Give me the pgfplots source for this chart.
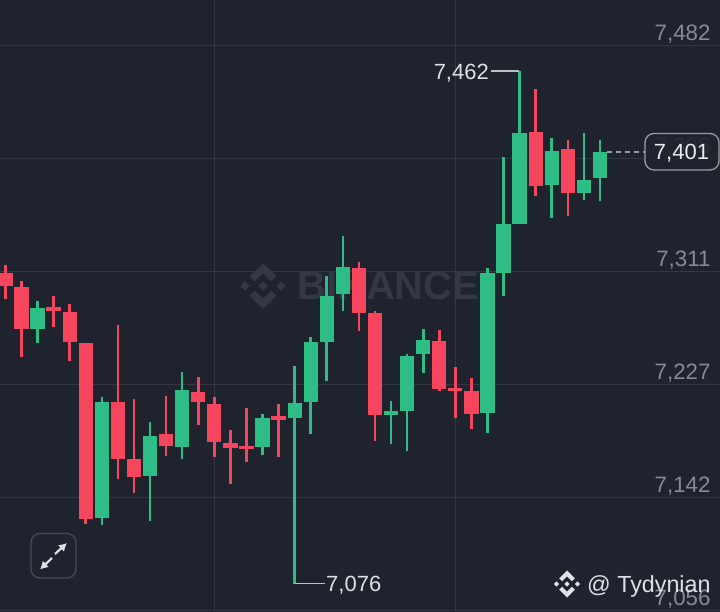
\documentclass[border=0pt]{standalone}
\usepackage{pgfplots}
\usepackage{pgfplotstable}
\usepackage{fontspec}
\setmainfont{Liberation Sans}
\pgfplotsset{compat=1.18}
\usetikzlibrary{arrows.meta}
\definecolor{bg}{HTML}{1E232E}
\definecolor{gridc}{HTML}{323742}
\definecolor{up}{HTML}{2EBD85}
\definecolor{dn}{HTML}{F6465D}
\definecolor{ticktxt}{HTML}{858A95}
\definecolor{wmark}{HTML}{343843}
\definecolor{lite}{HTML}{DDE0E4}
% i  low  high  bodylow  bodyhigh
\pgfplotstableread{
i lo hi blo bhi
0 7290.5 7316.1 7300.5 7309.8
1 7246.9 7304.3 7267.6 7299.7
3 7269.1 7292.7 7281.2 7284.6
4 7243.9 7286.5 7258.3 7280.7
5 7120.8 7257.5 7124.3 7257.5
7 7155.0 7270.6 7169.6 7212.6
8 7143.9 7214.8 7156.2 7169.6
10 7172.3 7217.5 7179.4 7188.4
12 7195.2 7231.6 7212.6 7220.6
13 7171.1 7216.6 7182.4 7211.5
14 7151.2 7191.5 7178.3 7181.7
15 7167.6 7208.0 7177.1 7179.6
17 7171.5 7211.1 7199.4 7202.0
22 7266.5 7318.6 7280.1 7314.1
23 7183.4 7281.4 7203.0 7279.9
27 7220.9 7267.1 7222.8 7258.8
28 7200.7 7239.0 7220.9 7223.1
29 7192.4 7230.9 7204.0 7220.9
33 7368.1 7448.6 7375.4 7416.6
35 7353.3 7410.3 7370.1 7403.3
}\reddata
\pgfplotstableread{
i lo hi blo bhi
2 7257.5 7289.2 7267.6 7283.4
6 7120.3 7216.3 7125.3 7212.6
9 7123.3 7197.5 7157.2 7187.4
11 7169.6 7235.6 7178.6 7221.6
16 7172.6 7203.7 7178.6 7200.5
18 7075.9 7239.9 7200.5 7211.8
19 7188.7 7262.0 7212.8 7257.8
20 7228.6 7308.0 7257.8 7292.9
21 7281.6 7338.2 7294.0 7314.8
24 7180.9 7213.5 7203.0 7205.8
25 7175.6 7249.0 7205.8 7247.7
26 7234.9 7268.1 7248.8 7259.8
30 7189.2 7314.1 7204.7 7310.1
31 7292.9 7397.3 7310.3 7347.2
32 7347.2 7462.4 7347.2 7415.4
34 7351.3 7411.6 7376.2 7402.3
36 7365.3 7415.4 7370.1 7380.2
37 7364.1 7410.3 7381.5 7401.3
}\greendata
\newcommand\binlogo[4]{% x y r colour
  \begin{scope}[shift={(#1,#2)},x=#3pt,y=-#3pt,fill=#4]
  \fill (0,1)--(.58,.42)--(.36,.2)--(0,.56)--(-.36,.2)--(-.58,.42)--cycle;
  \fill (0,-1)--(.58,-.42)--(.36,-.2)--(0,-.56)--(-.36,-.2)--(-.58,-.42)--cycle;
  \fill (0,.2)--(.2,0)--(0,-.2)--(-.2,0)--cycle;
  \fill (.78,.2)--(.98,0)--(.78,-.2)--(.58,0)--cycle;
  \fill (-.78,.2)--(-.58,0)--(-.78,-.2)--(-.98,0)--cycle;
  \end{scope}}
\begin{document}
\begin{tikzpicture}
\useasboundingbox (0,0) rectangle (720pt,611pt);
\begin{scope}[x=1pt,y=-1pt,yshift=611pt]
  \fill[bg] (-5,-5) rectangle (725,616);
  \binlogo{263}{286}{23}{wmark}
  \node[wmark,anchor=west,font=\fontsize{40}{40}\selectfont\bfseries,inner sep=0pt] at (297,286) {BINANCE};
\end{scope}
\begin{axis}[
  at={(0,0)},anchor=south west,
  scale only axis,width=720pt,height=611pt,
  xmin=-0.336,xmax=44.47,ymin=7055.2,ymax=7515.9,
  axis line style={draw=none},
  major tick length=0pt,
  xtick={13,28},xticklabels={},
  ytick={7055.6,7140.8,7226,7311.2,7396.4,7481.6},
  yticklabels={{7,056},{7,142},{7,227},{7,311},{7,396},{7,482}},
  yticklabel pos=right,
  y tick label style={anchor=east,xshift=-6pt,yshift=11.4pt,text=ticktxt,font=\fontsize{22.3}{22}\selectfont},
  grid=major,
  grid style={gridc,line width=1pt},
  error bars/error mark=none,
]
\addplot[draw=none,forget plot,error bars/.cd,y dir=plus,y explicit,error bar style={dn,line width=2.6pt}]
  table[x=i,y=lo,y error plus expr=\thisrow{hi}-\thisrow{lo}]{\reddata};
\addplot[draw=none,forget plot,error bars/.cd,y dir=plus,y explicit,error bar style={dn,line width=14.3pt}]
  table[x=i,y=blo,y error plus expr=\thisrow{bhi}-\thisrow{blo}]{\reddata};
\addplot[draw=none,forget plot,error bars/.cd,y dir=plus,y explicit,error bar style={up,line width=2.6pt}]
  table[x=i,y=lo,y error plus expr=\thisrow{hi}-\thisrow{lo}]{\greendata};
\addplot[draw=none,forget plot,error bars/.cd,y dir=plus,y explicit,error bar style={up,line width=14.3pt}]
  table[x=i,y=blo,y error plus expr=\thisrow{bhi}-\thisrow{blo}]{\greendata};
\end{axis}
\begin{scope}[x=1pt,y=-1pt,yshift=611pt]
  % callouts
  \draw[lite!85!black,line width=1.4pt] (519.3,71)--(491,71);
  \node[lite,anchor=east,inner sep=0pt,font=\fontsize{22}{22}\selectfont] at (489,73) {7,462};
  \draw[lite!85!black,line width=1.4pt] (294.7,583.5)--(325,583.5);
  \node[lite,anchor=west,inner sep=0pt,font=\fontsize{22}{22}\selectfont] at (326,585.5) {7,076};
  % last price
  \draw[lite!70!black,line width=1.5pt,dash pattern=on 5pt off 4pt] (607,152)--(645,152);
  \draw[lite!70!black,line width=1.3pt,fill=bg,fill opacity=.9,rounded corners=9pt] (645,133.5) rectangle (719,170);
  \node[white!92!black,inner sep=0pt,font=\fontsize{22}{22}\selectfont] at (681.5,153) {7,401};
  % expand button
  \draw[gridc!90!white,line width=1.3pt,rounded corners=9pt] (31,533.5) rectangle (76,578);
  \draw[lite,line width=2.2pt,-{Latex[length=8pt,width=9pt]}] (55,554)--(67,543);
  \draw[lite,line width=2.2pt,-{Latex[length=8pt,width=9pt]}] (52,558)--(40,569.5);
  % signature
  \binlogo{567}{584}{13.5}{lite}
  \node[lite,anchor=west,inner sep=0pt,font=\fontsize{23.3}{23}\selectfont] at (587,586.5) {@ Tydynian};
\end{scope}
\end{tikzpicture}
\end{document}
